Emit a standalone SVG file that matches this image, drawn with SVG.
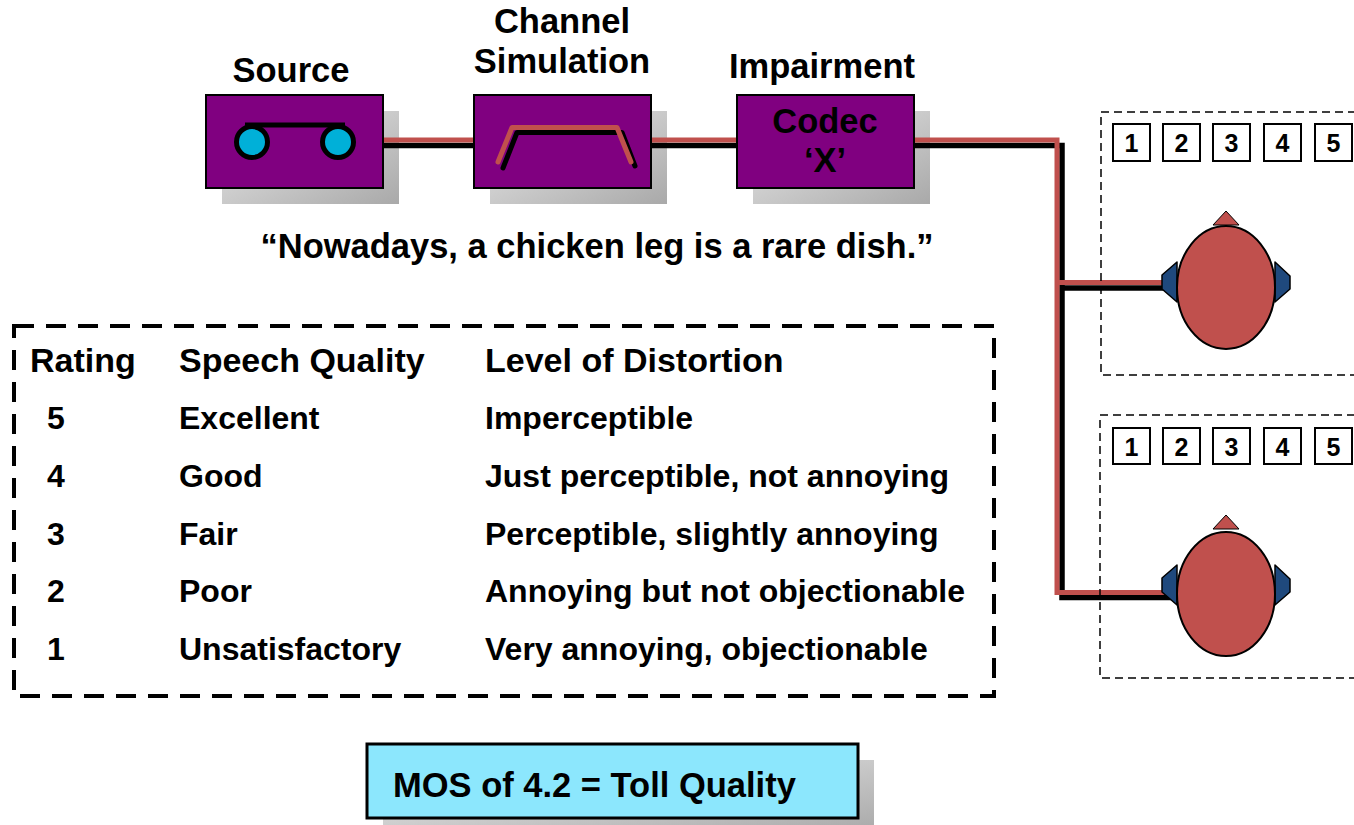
<svg xmlns="http://www.w3.org/2000/svg" width="1354" height="825" viewBox="0 0 1354 825">
  <defs>
    <linearGradient id="shade" x1="0" y1="0" x2="1" y2="1">
      <stop offset="0" stop-color="#ebebeb"/>
      <stop offset="1" stop-color="#a9a9a9"/>
    </linearGradient>
    <style>
      text { font-family: "Liberation Sans", Arial, sans-serif; font-weight: bold; fill: #000; }
      .h { font-size: 34.5px; text-anchor: middle; }
      .t { font-size: 32px; }
      .th { font-size: 34px; }
      .big { font-size: 34.5px; }
      .n { font-size: 25px; text-anchor: middle; }
      .shadow { fill: url(#shade); }
      .blk { fill: #800080; stroke: #000; stroke-width: 2; }
      .num { fill: #fff; stroke: #000; stroke-width: 2; }
      .panel { fill: none; stroke: #000; stroke-width: 1.5; stroke-dasharray: 8 5; }
      .head { fill: #c0504d; stroke: #000; stroke-width: 2; }
      .ear { fill: #1f497d; stroke: #000; stroke-width: 1.5; stroke-linejoin: round; }
      .wire-k { fill: none; stroke: #000; stroke-width: 5.5; }
      .wire-r { fill: none; stroke: #c0504d; stroke-width: 5; }
    </style>
  </defs>

  <rect width="1354" height="825" fill="#fff"/>

  <!-- drop shadows behind the blocks -->
  <g id="shadows">
    <rect class="shadow" x="222" y="111" width="177" height="93"/>
    <rect class="shadow" x="490" y="111" width="177" height="93"/>
    <rect class="shadow" x="753" y="111" width="177" height="93"/>
    <rect class="shadow" x="383" y="760" width="491" height="74"/>
  </g>

  <!-- connectors: black underlay, red on top -->
  <g id="connectors">
    <path class="wire-k" d="M383,145.5 H474 M651,145.5 H737 M914,145.5 H1062 V597.5 H1177 M1062,288 H1177"/>
    <path class="wire-r" d="M383,140 H474 M651,140 H737 M914,140 H1057 V592.5 H1177 M1057,282.5 H1177"/>
  </g>

  <!-- source block -->
  <g id="source">
    <text class="h" x="291" y="82">Source</text>
    <rect class="blk" x="206" y="95" width="177" height="93"/>
    <line x1="245" y1="125" x2="345" y2="125" stroke="#000" stroke-width="5"/>
    <circle cx="252" cy="142" r="15.5" fill="#00b0d8" stroke="#000" stroke-width="5"/>
    <circle cx="338" cy="142" r="15.5" fill="#00b0d8" stroke="#000" stroke-width="5"/>
  </g>

  <!-- channel simulation block -->
  <g id="channel">
    <text class="h" x="562" y="33">Channel</text>
    <text class="h" x="562" y="73">Simulation</text>
    <rect class="blk" x="474" y="95" width="177" height="93"/>
    <polyline points="503,168 517,132.5 622,132.5 635,166" fill="none" stroke="#000" stroke-width="5" stroke-linecap="round" stroke-linejoin="round"/>
    <polyline points="498,162 512,127.5 617,127.5 631,162" fill="none" stroke="#c0504d" stroke-width="5" stroke-linecap="round" stroke-linejoin="round"/>
  </g>

  <!-- impairment block -->
  <g id="impairment">
    <text class="h" x="822" y="78">Impairment</text>
    <rect class="blk" x="737" y="95" width="177" height="93"/>
    <text class="h" x="825" y="133">Codec</text>
    <text class="h" x="825" y="172">‘X’</text>
  </g>

  <!-- sentence -->
  <g id="sentence">
    <text class="h" x="597" y="258">“Nowadays, a chicken leg is a rare dish.”</text>
  </g>

  <!-- upper listener -->
  <g id="listener-1">
    <rect class="panel" x="1101" y="112" width="270" height="263"/>
    <rect class="num" x="1113" y="124" width="37" height="37"/>
    <rect class="num" x="1163" y="124" width="37" height="37"/>
    <rect class="num" x="1213" y="124" width="37" height="37"/>
    <rect class="num" x="1264" y="124" width="37" height="37"/>
    <rect class="num" x="1315" y="124" width="37" height="37"/>
    <text class="n" x="1131.5" y="152">1</text>
    <text class="n" x="1181.5" y="152">2</text>
    <text class="n" x="1231.5" y="152">3</text>
    <text class="n" x="1282.5" y="152">4</text>
    <text class="n" x="1333.5" y="152">5</text>
    <polygon class="ear" points="1177,262 1162,275 1162,289 1177,302"/>
    <polygon class="ear" points="1275,262 1290,276 1290,289 1275,302"/>
    <polygon points="1226,211 1239,225 1213,225" fill="#c0504d" stroke="#000" stroke-width="1"/>
    <ellipse class="head" cx="1226" cy="287.5" rx="49" ry="61.5"/>
  </g>

  <!-- lower listener -->
  <g id="listener-2">
    <rect class="panel" x="1100" y="415" width="270" height="263"/>
    <rect class="num" x="1113" y="428" width="37" height="36"/>
    <rect class="num" x="1163" y="428" width="37" height="36"/>
    <rect class="num" x="1213" y="428" width="37" height="36"/>
    <rect class="num" x="1264" y="428" width="37" height="36"/>
    <rect class="num" x="1315" y="428" width="37" height="36"/>
    <text class="n" x="1131.5" y="455.5">1</text>
    <text class="n" x="1181.5" y="455.5">2</text>
    <text class="n" x="1231.5" y="455.5">3</text>
    <text class="n" x="1282.5" y="455.5">4</text>
    <text class="n" x="1333.5" y="455.5">5</text>
    <polygon class="ear" points="1177,565 1162,578 1162,592 1177,605"/>
    <polygon class="ear" points="1275,565 1290,579 1290,592 1275,605"/>
    <polygon points="1226,515 1239,529 1213,529" fill="#c0504d" stroke="#000" stroke-width="1"/>
    <ellipse class="head" cx="1226" cy="594" rx="49" ry="62"/>
  </g>

  <!-- rating scale table -->
  <g id="scale">
    <rect x="14" y="326" width="980" height="370" fill="none" stroke="#000" stroke-width="4" stroke-dasharray="20 12"/>
    <text class="th" x="30" y="372">Rating</text>
    <text class="th" x="179" y="372">Speech Quality</text>
    <text class="th" x="485" y="372">Level of Distortion</text>
    <text class="t" x="47" y="429">5</text>
    <text class="t" x="179" y="429">Excellent</text>
    <text class="t" x="485" y="429">Imperceptible</text>
    <text class="t" x="47" y="487">4</text>
    <text class="t" x="179" y="487">Good</text>
    <text class="t" x="485" y="487">Just perceptible, not annoying</text>
    <text class="t" x="47" y="545">3</text>
    <text class="t" x="179" y="545">Fair</text>
    <text class="t" x="485" y="545">Perceptible, slightly annoying</text>
    <text class="t" x="47" y="602">2</text>
    <text class="t" x="179" y="602">Poor</text>
    <text class="t" x="485" y="602">Annoying but not objectionable</text>
    <text class="t" x="47" y="660">1</text>
    <text class="t" x="179" y="660">Unsatisfactory</text>
    <text class="t" x="485" y="660">Very annoying, objectionable</text>
  </g>

  <!-- MOS result -->
  <g id="mos">
    <rect x="367" y="744" width="491" height="74" fill="#8ce7fd" stroke="#000" stroke-width="3"/>
    <text class="big" x="393" y="797">MOS of 4.2 = Toll Quality</text>
  </g>
</svg>
